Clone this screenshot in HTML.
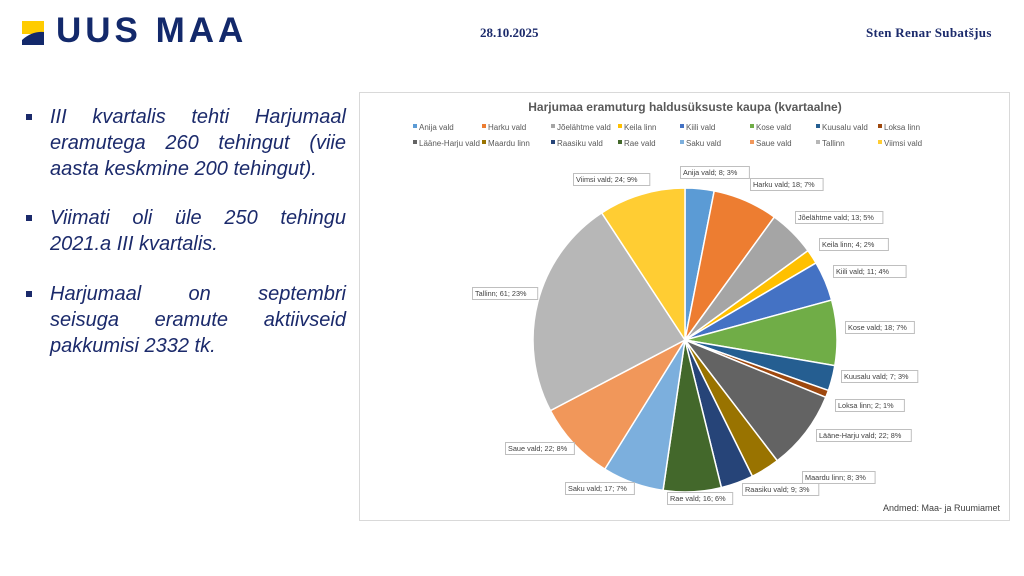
<!DOCTYPE html>
<html><head><meta charset="utf-8">
<style>
body{margin:0;width:1024px;height:576px;background:#fff;position:relative;overflow:hidden;font-family:"Liberation Sans",sans-serif}
.abs{position:absolute}
.ln{position:absolute;left:50px;width:296px;font-style:italic;font-size:20px;color:#1b2a6b;white-space:nowrap;line-height:26px}
.j{text-align:justify;text-align-last:justify}
.b{position:absolute;left:26px;width:6px;height:6px;background:#1b2a6b}
</style></head><body>
<svg class="abs" style="left:22px;top:21px" width="26" height="25"><rect x="0" y="0" width="22" height="13" fill="#ffcc00"/><path d="M0 24 L0 19 Q10 10 22 11 L22 24 Z" fill="#13296b"/></svg>
<div class="abs" style="left:56px;top:11px;font-size:35px;font-weight:bold;color:#13296b;letter-spacing:4px">UUS MAA</div>
<div class="abs" style="left:480px;top:25px;font-size:13px;font-weight:bold;color:#1b2a6b;font-family:'Liberation Serif',serif">28.10.2025</div>
<div class="abs" style="left:866px;top:25px;font-size:13px;font-weight:bold;letter-spacing:0.3px;color:#1b2a6b;font-family:'Liberation Serif',serif">Sten Renar Subatšjus</div>

<div class="b" style="top:114px"></div>
<div class="ln j" style="top:104px">III kvartalis tehti Harjumaal</div>
<div class="ln j" style="top:130px">eramutega 260 tehingut (viie</div>
<div class="ln" style="top:156px">aasta keskmine 200 tehingut).</div>
<div class="b" style="top:215px"></div>
<div class="ln j" style="top:205px">Viimati oli üle 250 tehingu</div>
<div class="ln" style="top:231px">2021.a III kvartalis.</div>
<div class="b" style="top:291px"></div>
<div class="ln j" style="top:281px">Harjumaal on septembri</div>
<div class="ln j" style="top:307px">seisuga eramute aktiivseid</div>
<div class="ln" style="top:333px">pakkumisi 2332 tk.</div>

<svg class="abs" style="left:0;top:0" width="1024" height="576" id="s">
<rect x="359.5" y="92.5" width="650" height="428" fill="#fff" stroke="#d9d9d9"/>
<text x="685" y="111" text-anchor="middle" font-size="12" font-weight="bold" fill="#595959">Harjumaa eramuturg haldusüksuste kaupa (kvartaalne)</text>
<text x="1000" y="511" text-anchor="end" font-size="9" fill="#404040">Andmed: Maa- ja Ruumiamet</text>
<g id="pie"></g><g id="leg"></g><g id="lab"></g>
</svg>
<script>
var d=[["Anija vald",8,"#5B9BD5"],["Harku vald",18,"#ED7D31"],["Jõelähtme vald",13,"#A5A5A5"],["Keila linn",4,"#FFC000"],["Kiili vald",11,"#4472C4"],["Kose vald",18,"#70AD47"],["Kuusalu vald",7,"#255E91"],["Loksa linn",2,"#9E480E"],["Lääne-Harju vald",22,"#636363"],["Maardu linn",8,"#997300"],["Raasiku vald",9,"#264478"],["Rae vald",16,"#43682B"],["Saku vald",17,"#7CAFDD"],["Saue vald",22,"#F1975A"],["Tallinn",61,"#B7B7B7"],["Viimsi vald",24,"#FFCD33"]];
var pct=["3%","7%","5%","2%","4%","7%","3%","1%","8%","3%","3%","6%","7%","8%","23%","9%"];
var lp=[[680,174],[750,186],[795,219],[819,246],[833,273],[845,329],[841,378],[835,407],[816,437],[802,479],[742,491],[667,500],[565,490],[505,450],[472,295],[573,181]];
var cx=685,cy=340,r=152,a=-Math.PI/2,h="",L="",B="";
d.forEach(function(e,i){var a2=a+e[1]/260*2*Math.PI;var x1=cx+r*Math.cos(a),y1=cy+r*Math.sin(a),x2=cx+r*Math.cos(a2),y2=cy+r*Math.sin(a2);
h+='<path d="M'+cx+' '+cy+'L'+x1+' '+y1+'A'+r+' '+r+' 0 '+((a2-a)>Math.PI?1:0)+' 1 '+x2+' '+y2+'Z" fill="'+e[2]+'" stroke="#fff" stroke-width="1.5"/>';
a=a2;
var col=i%8,row=Math.floor(i/8),lx=[419,488,557,624,686,756,822,884][col],ly=130+row*16;
L+='<rect x="'+(lx-6)+'" y="'+(ly-6)+'" width="4" height="4" fill="'+e[2]+'"/><text x="'+lx+'" y="'+ly+'" font-size="8" fill="#595959">'+e[0]+'</text>';
var t=e[0]+"; "+e[1]+"; "+pct[i],w=t.length*3.7+6,p=lp[i];
B+='<rect x="'+p[0]+'.5" y="'+(p[1]-8)+'.5" width="'+w+'" height="12" fill="#fff" stroke="#bfbfbf"/><text x="'+(p[0]+3)+'" y="'+(p[1]+1)+'" font-size="7.3" fill="#404040">'+t+'</text>';});
document.getElementById("pie").innerHTML=h;document.getElementById("leg").innerHTML=L;document.getElementById("lab").innerHTML=B;
</script>
</body></html>
